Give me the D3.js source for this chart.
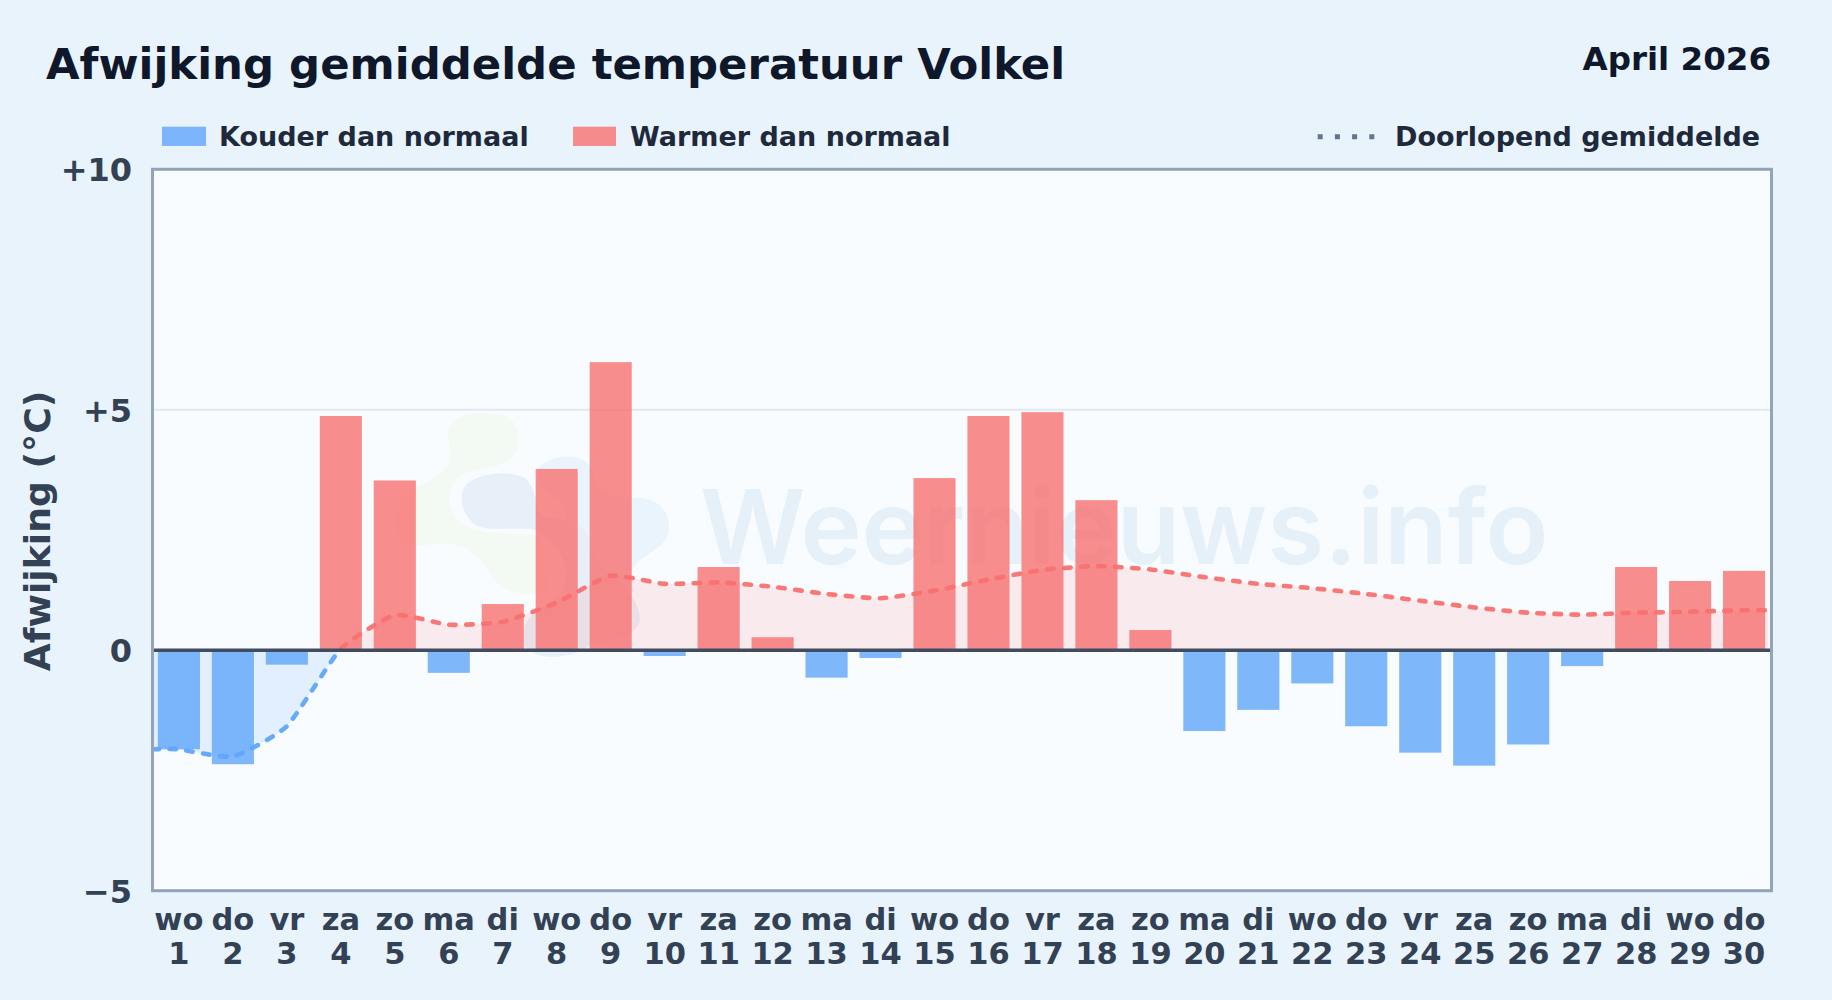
<!DOCTYPE html>
<html><head><meta charset="utf-8">
<script src="https://cdn.jsdelivr.net/npm/d3@7/dist/d3.min.js"></script>
<style>
html,body{margin:0;padding:0;background:#e8f3fc;overflow:hidden}
svg{display:block}
text{font-family:"DejaVu Sans",sans-serif;font-weight:700}
</style></head><body><svg id="c" width="1832" height="1000"></svg>
<script>
const days=[1,2,3,4,5,6,7,8,9,10,11,12,13,14,15,16,17,18,19,20,21,22,23,24,25,26,27,28,29,30];
const dayNames=["wo","do","vr","za","zo","ma","di","wo","do","vr","za","zo","ma","di","wo","do","vr","za","zo","ma","di","wo","do","vr","za","zo","ma","di","wo","do"];
const deviation=[-2.06,-2.37,-0.30,4.87,3.53,-0.47,0.96,3.77,5.99,-0.12,1.73,0.27,-0.57,-0.16,3.58,4.87,4.95,3.12,0.42,-1.68,-1.24,-0.69,-1.58,-2.13,-2.40,-1.96,-0.33,1.73,1.44,1.65];
const runningMean=[-2.06,-2.21,-1.58,0.03,0.73,0.53,0.59,0.99,1.55,1.38,1.41,1.32,1.17,1.08,1.24,1.47,1.67,1.75,1.68,1.52,1.38,1.29,1.17,1.03,0.89,0.78,0.74,0.78,0.80,0.83];
const yTicks=[-5,0,5,10];
const yLabels=["\u22125","0","+5","+10"];
const titleText="Afwijking gemiddelde temperatuur Volkel";
const periodText="April 2026";
const yTitle="Afwijking (\u00b0C)";
const legendCold="Kouder dan normaal", legendWarm="Warmer dan normaal", legendMean="Doorlopend gemiddelde";
const watermark="Weernieuws.info";
const cBlue="#60a5fa", cRed="#f87171";

const L=152.5,R=1771.5,T=169.3,B=890.7;
const svg=d3.select("#c");
const x=d3.scaleBand().domain(days).range([L-0.3,R-0.7]).paddingInner(0.22).paddingOuter(0.105);
const y=d3.scaleLinear().domain([-5,10]).range([B,T]);
const cx=d=>x(d)+x.bandwidth()/2;
svg.append("rect").attr("width",1832).attr("height",1000).attr("fill","#e8f3fc");
svg.append("rect").attr("x",L).attr("y",T).attr("width",R-L).attr("height",B-T).attr("fill","#f8fcff");

const defs=svg.append("defs");
defs.append("clipPath").attr("id","above").append("rect").attr("x",L).attr("width",R-L).attr("y",T).attr("height",y(0)-T);
defs.append("clipPath").attr("id","below").append("rect").attr("x",L).attr("width",R-L).attr("y",y(0)).attr("height",B-y(0));

// watermark
const wm=svg.append("g");
wm.append("path").attr("fill","#f3faf3").attr("d","M448,432C448,415 480,408 505,416C522,423 522,450 510,460C495,470 470,468 458,478C446,488 446,510 460,522C475,535 510,533 540,535L548,590C520,600 500,590 490,575C480,555 470,545 440,543C420,545 405,550 398,540C392,520 395,500 415,487C435,480 450,470 450,455Z");
wm.append("path").attr("fill","#e9f4fd").attr("d","M538,470C550,452 585,452 592,470C596,490 600,498 640,498C665,500 672,520 668,535C660,552 640,555 632,570C625,582 600,585 590,570C575,560 570,520 560,500C545,490 535,485 538,470Z");
wm.append("path").attr("fill","#e7f0f9").attr("d","M463,490C470,472 510,470 525,478C538,490 536,510 540,516C560,520 585,518 590,540C592,570 640,585 640,620C636,640 600,640 590,645C570,660 535,662 525,645C515,620 545,605 560,595C575,570 560,545 535,530C510,525 480,535 470,520C462,510 460,500 463,490Z");
wm.append("text").attr("x",700).attr("y",564).attr("fill","#e6f0f9").style("font-family","Inter").style("font-weight",600).style("font-size","103.6px").text(watermark);

// grid
svg.append("line").attr("x1",L).attr("x2",R).attr("y1",y(5)).attr("y2",y(5)).attr("stroke","#e2e8f0").attr("stroke-width",2);

// area
const pts=[[L,runningMean[0]]].concat(days.map((d,i)=>[cx(d),runningMean[i]]),[[R-3,runningMean[runningMean.length-1]]]);
const curve=d3.curveCardinal.tension(0.5);
const area=d3.area().x(p=>p[0]).y0(y(0)).y1(p=>y(p[1])).curve(curve);
const line=d3.line().x(p=>p[0]).y(p=>y(p[1])).curve(curve);
[["above",cRed,0.13],["below",cBlue,0.15]].forEach(([id,c,a])=>{
  svg.append("path").attr("clip-path",`url(#${id})`).attr("fill",c).attr("fill-opacity",a).attr("d",area(pts));
});

// bars
svg.append("g").selectAll("rect").data(days).join("rect")
 .attr("x",d=>x(d)).attr("width",x.bandwidth())
 .attr("y",(d,i)=>y(Math.max(0,deviation[i])))
 .attr("height",(d,i)=>Math.abs(y(deviation[i])-y(0)))
 .attr("fill",(d,i)=>deviation[i]<0?cBlue:cRed).attr("fill-opacity",0.8);

// running mean line
[["above",cRed],["below",cBlue]].forEach(([id,c])=>{
  svg.append("path").attr("clip-path",`url(#${id})`).attr("fill","none").attr("stroke",c).attr("stroke-width",4.6)
   .attr("stroke-linecap","round").attr("stroke-dasharray","6.5 10.5").attr("stroke-opacity",0.95).attr("d",line(pts));
});

// frame + zero line
svg.append("line").attr("x1",L).attr("x2",R).attr("y1",y(0)).attr("y2",y(0)).attr("stroke","#3f4c61").attr("stroke-width",3.4);
svg.append("rect").attr("x",L).attr("y",T).attr("width",R-L).attr("height",B-T).attr("fill","none").attr("stroke","#94a3b8").attr("stroke-width",3);

// axes
const ax=svg.append("g").attr("transform",`translate(${L},0)`).call(d3.axisLeft(y).tickValues(yTicks).tickSize(0).tickPadding(20.5).tickFormat((d,i)=>yLabels[i]));
ax.select(".domain").remove();
ax.selectAll("text").attr("fill","#334155").style("font-size","32px").style("font-family","DejaVu Sans").style("font-weight",700).attr("dy","0.36em");
const bx=svg.append("g").attr("transform",`translate(0,${B})`).call(d3.axisBottom(x).tickSize(0).tickFormat(()=>""));
bx.select(".domain").remove();
bx.selectAll(".tick text").each(function(d,i){
  const t=d3.select(this).attr("fill","#334155").attr("y",null).attr("dy",null).style("font-size","30.5px").style("font-family","DejaVu Sans").style("font-weight",700);
  t.append("tspan").attr("x",0).attr("y",39.8).text(dayNames[i]);
  t.append("tspan").attr("x",0).attr("y",73.8).text(days[i]);
});

// titles
svg.append("text").attr("x",46).attr("y",79).attr("fill","#0f172a").style("font-size","43.4px").text(titleText);
svg.append("text").attr("x",1771).attr("y",69.5).attr("text-anchor","end").attr("fill","#0f172a").style("font-size","32.5px").text(periodText);
svg.append("text").attr("transform","translate(50,531) rotate(-90)").attr("text-anchor","middle").attr("fill","#334155").style("font-size","36.2px").text(yTitle);

// legend
const lg=svg.append("g");
lg.append("rect").attr("x",162).attr("y",126.7).attr("width",44).attr("height",19.3).attr("fill",cBlue).attr("fill-opacity",0.8);
lg.append("text").attr("x",219).attr("y",146).attr("fill","#1e293b").style("font-size","27px").text(legendCold);
lg.append("rect").attr("x",573).attr("y",126.7).attr("width",43).attr("height",19.3).attr("fill",cRed).attr("fill-opacity",0.8);
lg.append("text").attr("x",630).attr("y",146).attr("fill","#1e293b").style("font-size","27px").text(legendWarm);
lg.append("line").attr("x1",1317.7).attr("x2",1375).attr("y1",136.7).attr("y2",136.7).attr("stroke","#64748b").attr("stroke-width",5).attr("stroke-dasharray","5 12.2");
lg.append("text").attr("x",1395).attr("y",146).attr("fill","#1e293b").style("font-size","27px").text(legendMean);
</script></body></html>
